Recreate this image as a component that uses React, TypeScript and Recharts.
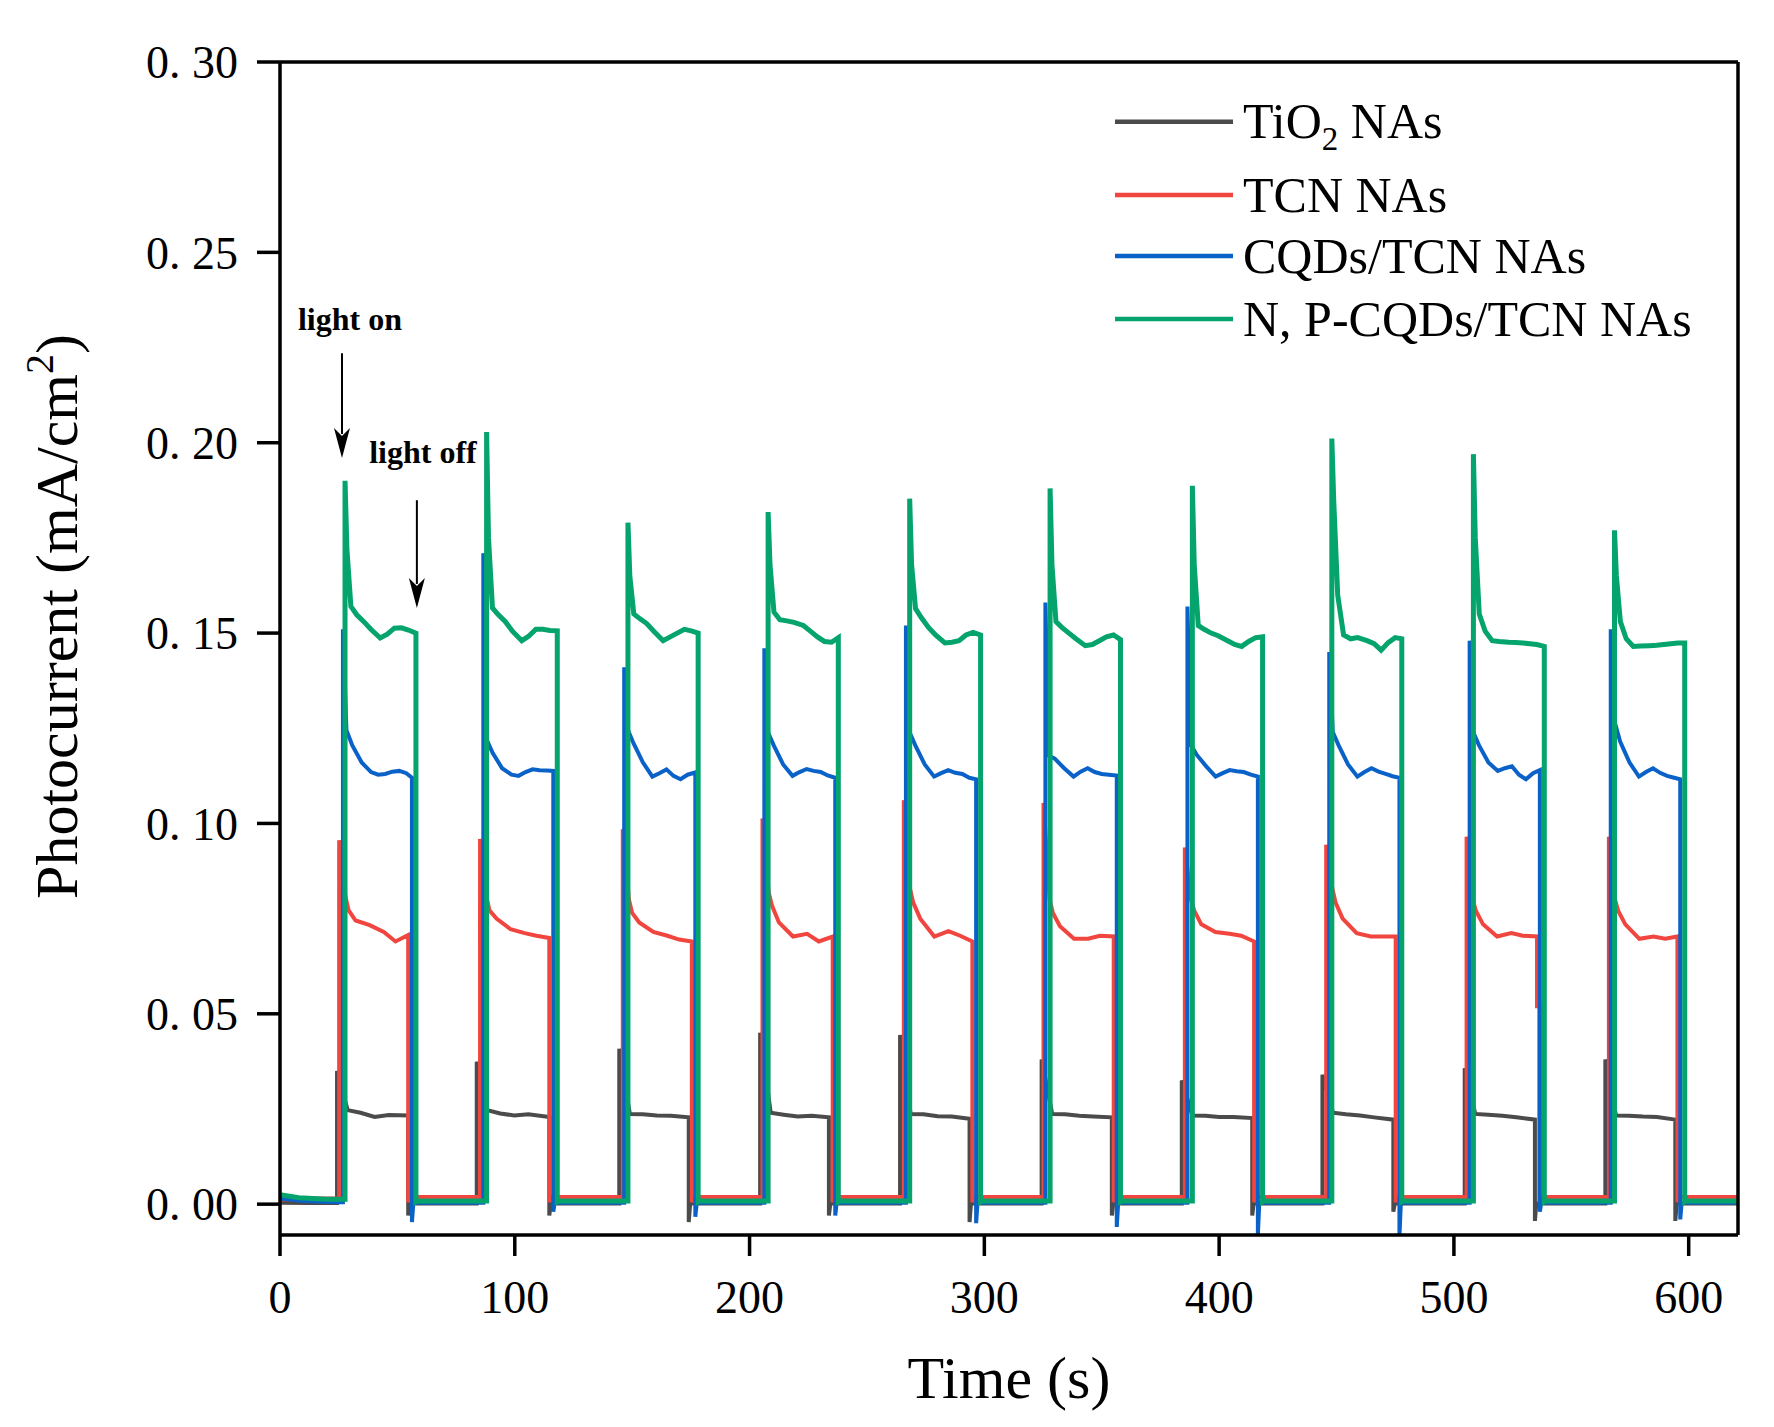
import React from 'react';
import { LineChart, Line, XAxis, YAxis, ReferenceLine, ReferenceDot } from 'recharts';

// ---------- axes ----------
const X_TICKS = [0, 100, 200, 300, 400, 500, 600];
const Y_TICKS = [0, 0.05, 0.1, 0.15, 0.2, 0.25, 0.3];
const X_MAX = 621;
const Y_MIN = -0.0081;
const Y_MAX = 0.3;

// ---------- TiO2 NAs (gray) ----------
const tio2Init = [[0, 0.0004], [12, 0.0003]];
const tio2On = [24.3, 83.8, 144.5, 204.5, 264.1, 324.4, 384.1, 444.0, 504.6, 564.5];
const tio2Off = [54.6, 114.7, 174.1, 233.8, 293.7, 354.3, 414.1, 474.2, 534.5, 594.3];
const tio2Peak = [0.035, 0.0374, 0.0408, 0.045, 0.0444, 0.038, 0.0325, 0.034, 0.0357, 0.038];
const tio2Offsets = [4.5, 10, 16, 22];
const tio2Plateau = [
  [0.0247, 0.024, 0.0229, 0.0234, 0.0233],
  [0.0247, 0.0238, 0.0233, 0.0236, 0.0229],
  [0.0237, 0.0236, 0.0233, 0.0232, 0.0228],
  [0.024, 0.0235, 0.023, 0.0232, 0.0228],
  [0.0237, 0.0236, 0.0231, 0.023, 0.0224],
  [0.0237, 0.0236, 0.0232, 0.023, 0.0228],
  [0.0233, 0.0232, 0.0229, 0.0229, 0.0226],
  [0.024, 0.0236, 0.0233, 0.0228, 0.0222],
  [0.0237, 0.0235, 0.0232, 0.0228, 0.0222],
  [0.0233, 0.0232, 0.023, 0.0229, 0.0222],
];
const tio2Dip = [-0.003, -0.003, -0.0047, -0.003, -0.0047, -0.003, -0.003, -0.002, -0.0044, -0.0044];
const tio2Base = 0.0002;

// ---------- TCN NAs (red) ----------
const tcnInit = [[0, 0.0012], [12, 0.0015]];
const tcnOn = [25.2, 85.2, 146.0, 205.5, 265.7, 325.2, 385.4, 445.6, 505.4, 566.0];
const tcnOff = [54.6, 114.7, 175.4, 235.4, 294.9, 355.1, 414.9, 475.2, 535.4, 595.2];
const tcnPeak = [0.0956, 0.0959, 0.0985, 0.1013, 0.1061, 0.1054, 0.0937, 0.0944, 0.0965, 0.0965];
const tcnOffsets = [2.6, 4, 7, 13, 19, 24];
const tcnPlateau = [
  [0.081, 0.0772, 0.0745, 0.0733, 0.0715, 0.069, 0.0707],
  [0.081, 0.0772, 0.075, 0.0722, 0.0712, 0.0705, 0.0699],
  [0.080, 0.0765, 0.074, 0.0715, 0.0705, 0.0695, 0.069],
  [0.082, 0.0785, 0.074, 0.0703, 0.071, 0.069, 0.0703],
  [0.083, 0.0792, 0.075, 0.0703, 0.0717, 0.0705, 0.069],
  [0.080, 0.0765, 0.073, 0.0697, 0.0697, 0.0705, 0.0703],
  [0.080, 0.0771, 0.0735, 0.0715, 0.071, 0.0705, 0.069],
  [0.083, 0.0792, 0.075, 0.0712, 0.0703, 0.0703, 0.0703],
  [0.080, 0.077, 0.0735, 0.0703, 0.0712, 0.0705, 0.0703],
  [0.080, 0.077, 0.0735, 0.0697, 0.0703, 0.0697, 0.0703],
];
const tcnDip = [0.0005, 0.0005, 0.0005, 0.0005, 0.0005, 0.0005, 0.0005, 0.0005, 0.0005, 0.0005];
const tcnStep = [null, null, null, null, null, null, null, null, 0.052, null];
const tcnBase = 0.0019;

// ---------- CQDs/TCN NAs (blue) ----------
const cqdInit = [[0, 0.0015], [10, 0.0008], [25, 0.0005]];
const cqdOn = [26.8, 86.6, 146.6, 206.3, 266.6, 326.0, 386.5, 446.9, 506.7, 566.8];
const cqdOff = [56.2, 116.4, 176.9, 236.5, 296.5, 356.4, 416.5, 476.8, 536.6, 596.4];
const cqdPeak = [0.151, 0.171, 0.141, 0.146, 0.152, 0.158, 0.157, 0.145, 0.148, 0.151];
const cqdOffsets = [1.5, 4, 8, 12, 15, 18, 21, 24, 27];
const cqdPlateau = [
  [0.1245, 0.1205, 0.116, 0.1135, 0.1128, 0.113, 0.1136, 0.1138, 0.1132, 0.112],
  [0.1219, 0.1185, 0.1145, 0.1128, 0.1125, 0.1135, 0.1142, 0.114, 0.1139, 0.1138],
  [0.1247, 0.121, 0.116, 0.1123, 0.1132, 0.1142, 0.1125, 0.1116, 0.1128, 0.1134],
  [0.124, 0.1205, 0.1155, 0.1125, 0.1135, 0.1143, 0.1138, 0.1135, 0.1126, 0.112],
  [0.124, 0.1205, 0.1155, 0.1123, 0.1132, 0.114, 0.1133, 0.113, 0.112, 0.1116],
  [0.1178, 0.117, 0.1145, 0.1123, 0.1136, 0.1145, 0.1135, 0.113, 0.1128, 0.1126],
  [0.1206, 0.118, 0.115, 0.1123, 0.1132, 0.114, 0.1137, 0.1135, 0.1128, 0.1123],
  [0.124, 0.1205, 0.1155, 0.1123, 0.1135, 0.1145, 0.1136, 0.113, 0.1124, 0.112],
  [0.124, 0.1205, 0.116, 0.1138, 0.1145, 0.115, 0.1128, 0.1116, 0.1132, 0.114],
  [0.127, 0.1215, 0.116, 0.1123, 0.1135, 0.1145, 0.1133, 0.1125, 0.112, 0.1116],
];
const cqdDip = [-0.0047, -0.002, -0.0033, -0.003, -0.005, -0.006, -0.008, -0.0085, -0.002, -0.004];
const cqdBase = 0.0004;

// ---------- N, P-CQDs/TCN NAs (green) ----------
const npInit = [[0, 0.0025], [8, 0.0017], [20, 0.0013]];
const npOn = [27.7, 88.0, 148.2, 207.9, 268.2, 328.0, 388.6, 448.0, 508.3, 568.4];
const npOff = [57.9, 118.1, 178.1, 237.8, 298.4, 358.0, 418.5, 477.8, 538.5, 598.3];
const npPeak = [0.19, 0.2028, 0.179, 0.1818, 0.1853, 0.188, 0.1887, 0.2011, 0.197, 0.177];
const npOffsets = [0.8, 2.5, 5, 8, 11, 15, 18, 21, 24, 27];
const npPlateau = [
  [0.172, 0.157, 0.1548, 0.153, 0.151, 0.1487, 0.1497, 0.1513, 0.1514, 0.1508, 0.15],
  [0.175, 0.1566, 0.1548, 0.153, 0.1505, 0.148, 0.1492, 0.151, 0.151, 0.1507, 0.1506],
  [0.165, 0.155, 0.1538, 0.1525, 0.1505, 0.148, 0.149, 0.15, 0.151, 0.1506, 0.15],
  [0.168, 0.1555, 0.1535, 0.1532, 0.1528, 0.152, 0.1505, 0.149, 0.1478, 0.1476, 0.1488],
  [0.168, 0.1564, 0.154, 0.1515, 0.1495, 0.1474, 0.1476, 0.148, 0.1495, 0.1502, 0.1495],
  [0.168, 0.153, 0.1515, 0.15, 0.1485, 0.1467, 0.147, 0.148, 0.149, 0.1495, 0.1483],
  [0.168, 0.152, 0.151, 0.15, 0.1493, 0.148, 0.147, 0.1465, 0.1478, 0.1488, 0.149],
  [0.185, 0.16, 0.1495, 0.1485, 0.1488, 0.148, 0.1472, 0.1455, 0.1475, 0.1488, 0.1485],
  [0.175, 0.155, 0.1505, 0.148, 0.1478, 0.1476, 0.1475, 0.1474, 0.1472, 0.147, 0.1465],
  [0.165, 0.153, 0.1485, 0.1465, 0.1466, 0.1467, 0.1468, 0.147, 0.1472, 0.1474, 0.1474],
];
const npDip = [0.0006, 0.0006, 0.0006, 0.0006, 0.0006, 0.0006, 0.0006, 0.0006, 0.0006, 0.0006];
const npBase = 0.0008;

// ---------- annotations ----------
const lightOnArrow = { x: 26.4, yFrom: 0.2235, yTo: 0.196 };
const lightOffArrow = { x: 58.3, yFrom: 0.1849, yTo: 0.1566 };
const lightOnText = { x: 29.8, y: 0.2325, text: 'light on' };
const lightOffText = { x: 60.9, y: 0.1975, text: 'light off' };

type Pt = { t: number; v: number };

function buildTrace(
  init: number[][],
  on: number[],
  off: number[],
  peak: number[],
  offsets: number[],
  plateau: number[][],
  dip: number[],
  base: number,
  step?: (number | null)[]
): Pt[] {
  const pts: Pt[] = init.map(([t, v]) => ({ t, v }));
  on.forEach((tOn, i) => {
    const before = i === 0 ? init[init.length - 1][1] : base;
    pts.push({ t: tOn, v: before });
    pts.push({ t: tOn, v: peak[i] });
    offsets.forEach((o, j) => pts.push({ t: tOn + o, v: plateau[i][j] }));
    const end = plateau[i][offsets.length];
    pts.push({ t: off[i], v: end });
    const s = step ? step[i] : null;
    if (s != null) {
      pts.push({ t: off[i], v: s });
      pts.push({ t: off[i] + 1, v: s });
      pts.push({ t: off[i] + 1, v: dip[i] });
      pts.push({ t: off[i] + 1.6, v: base });
    } else {
      pts.push({ t: off[i], v: dip[i] });
      pts.push({ t: off[i] + 0.6, v: base });
    }
  });
  pts.push({ t: X_MAX, v: base });
  return pts;
}

const tio2Data = buildTrace(tio2Init, tio2On, tio2Off, tio2Peak, tio2Offsets, tio2Plateau, tio2Dip, tio2Base);
const tcnData = buildTrace(tcnInit, tcnOn, tcnOff, tcnPeak, tcnOffsets, tcnPlateau, tcnDip, tcnBase, tcnStep);
const cqdData = buildTrace(cqdInit, cqdOn, cqdOff, cqdPeak, cqdOffsets, cqdPlateau, cqdDip, cqdBase);
const npData = buildTrace(npInit, npOn, npOff, npPeak, npOffsets, npPlateau, npDip, npBase);

const COLORS = {
  tio2: '#4b4b4b',
  tcn: '#f0463f',
  cqd: '#0a62c8',
  np: '#04a46c',
};

const SERIF = '"Liberation Serif", "Times New Roman", serif';

const Arrow = (p: any) => {
  const { x1, y1, x2, y2 } = p;
  const headLen = 30;
  const headW = 8;
  return (
    <g>
      <line x1={x1} y1={y1} x2={x2} y2={y2 - headLen + 6} stroke="#000" strokeWidth={2} />
      <polygon
        points={`${x2},${y2} ${x2 - headW},${y2 - headLen} ${x2},${y2 - headLen + 8} ${x2 + headW},${y2 - headLen}`}
        fill="#000"
      />
    </g>
  );
};

const makeTextShape = (text: string) => (p: any) => (
  <text
    x={p.cx}
    y={p.cy}
    textAnchor="middle"
    dominantBaseline="central"
    fontFamily={SERIF}
    fontWeight="bold"
    fontSize={32}
    fill="#000"
  >
    {text}
  </text>
);

const YLabel = (props: any) => {
  const vb = props.viewBox || { x: 0, y: 54, width: 272, height: 1173 };
  const x = vb.x + 69;
  const y = vb.y + vb.height / 2 - 32;
  return (
    <text
      x={x}
      y={y}
      transform={`rotate(-90, ${x}, ${y})`}
      textAnchor="middle"
      fontFamily={SERIF}
      fontSize={60}
      fill="#000"
    >
      <tspan>Photocurrent (mA/cm</tspan>
      <tspan fontSize={40} dy={-24}>2</tspan>
      <tspan dy={24}>)</tspan>
    </text>
  );
};

const XLabel = (props: any) => {
  const vb = props.viewBox || { x: 272, y: 1227, width: 1458, height: 100 };
  return (
    <text
      x={vb.x + vb.width / 2}
      y={vb.y + 163}
      textAnchor="middle"
      fontFamily={SERIF}
      fontSize={60}
      fill="#000"
    >
      Time (s)
    </text>
  );
};

const LEGEND_ROWS = [
  { key: 'tio2', y: 33.7 },
  { key: 'tcn', y: 107 },
  { key: 'cqd', y: 168 },
  { key: 'np', y: 231 },
];

const LegendOverlay = () => (
  <svg
    width={680}
    height={280}
    style={{ position: 'absolute', left: 1100, top: 80, overflow: 'visible' }}
  >
    {LEGEND_ROWS.map((r) => (
      <line
        key={r.key}
        x1={7}
        x2={125}
        y1={r.y}
        y2={r.y}
        stroke={(COLORS as any)[r.key]}
        strokeWidth={4.5}
      />
    ))}
    <text x={135} y={LEGEND_ROWS[0].y + 16.5} fontFamily={SERIF} fontSize={50} fill="#000">
      <tspan>TiO</tspan>
      <tspan fontSize={33} dy={12}>2</tspan>
      <tspan dy={-12}> NAs</tspan>
    </text>
    <text x={135} y={LEGEND_ROWS[1].y + 16.5} fontFamily={SERIF} fontSize={50} fill="#000">
      TCN NAs
    </text>
    <text x={135} y={LEGEND_ROWS[2].y + 16.5} fontFamily={SERIF} fontSize={50} fill="#000">
      CQDs/TCN NAs
    </text>
    <text x={135} y={LEGEND_ROWS[3].y + 16.5} fontFamily={SERIF} fontSize={50} fill="#000">
      N, P-CQDs/TCN NAs
    </text>
  </svg>
);

const axisLineStyle = { stroke: '#000', strokeWidth: 3.5 };

export default function App() {
  return (
    <div style={{ position: 'relative', width: 1766, height: 1411, background: '#fff' }}>
      <LineChart
        width={1766}
        height={1411}
        margin={{ top: 54, right: 36, bottom: 84, left: 0 }}
      >
        <XAxis
          dataKey="t"
          type="number"
          domain={[0, X_MAX]}
          ticks={X_TICKS}
          allowDataOverflow
          height={100}
          tickSize={21}
          tickMargin={24}
          axisLine={axisLineStyle}
          tickLine={axisLineStyle}
          tick={{ fontSize: 46, fill: '#000', fontFamily: SERIF }}
          label={{ content: XLabel }}
        />
        <YAxis
          type="number"
          domain={[Y_MIN, Y_MAX]}
          ticks={Y_TICKS}
          allowDataOverflow
          width={272}
          tickSize={23}
          tickMargin={19}
          axisLine={axisLineStyle}
          tickLine={axisLineStyle}
          tick={{ fontSize: 46, fill: '#000', fontFamily: SERIF }}
          tickFormatter={(v: number) => v.toFixed(2).replace('.', '. ')}
          label={{ content: YLabel }}
        />
        <Line data={tio2Data} dataKey="v" name="TiO2 NAs" type="linear" stroke={COLORS.tio2} strokeWidth={4} dot={false} activeDot={false} isAnimationActive={false} />
        <Line data={tcnData} dataKey="v" name="TCN NAs" type="linear" stroke={COLORS.tcn} strokeWidth={4} dot={false} activeDot={false} isAnimationActive={false} />
        <Line data={cqdData} dataKey="v" name="CQDs/TCN NAs" type="linear" stroke={COLORS.cqd} strokeWidth={4} dot={false} activeDot={false} isAnimationActive={false} />
        <Line data={npData} dataKey="v" name="N, P-CQDs/TCN NAs" type="linear" stroke={COLORS.np} strokeWidth={5} dot={false} activeDot={false} isAnimationActive={false} />
        <ReferenceLine y={Y_MAX} stroke="#000" strokeWidth={3.5} ifOverflow="visible" />
        <ReferenceLine x={X_MAX} stroke="#000" strokeWidth={3.5} ifOverflow="visible" />
        <ReferenceLine
          segment={[{ x: lightOnArrow.x, y: lightOnArrow.yFrom }, { x: lightOnArrow.x, y: lightOnArrow.yTo }]}
          shape={Arrow}
        />
        <ReferenceLine
          segment={[{ x: lightOffArrow.x, y: lightOffArrow.yFrom }, { x: lightOffArrow.x, y: lightOffArrow.yTo }]}
          shape={Arrow}
        />
        <ReferenceDot x={lightOnText.x} y={lightOnText.y} r={1} shape={makeTextShape(lightOnText.text)} />
        <ReferenceDot x={lightOffText.x} y={lightOffText.y} r={1} shape={makeTextShape(lightOffText.text)} />
      </LineChart>
      <LegendOverlay />
    </div>
  );
}
